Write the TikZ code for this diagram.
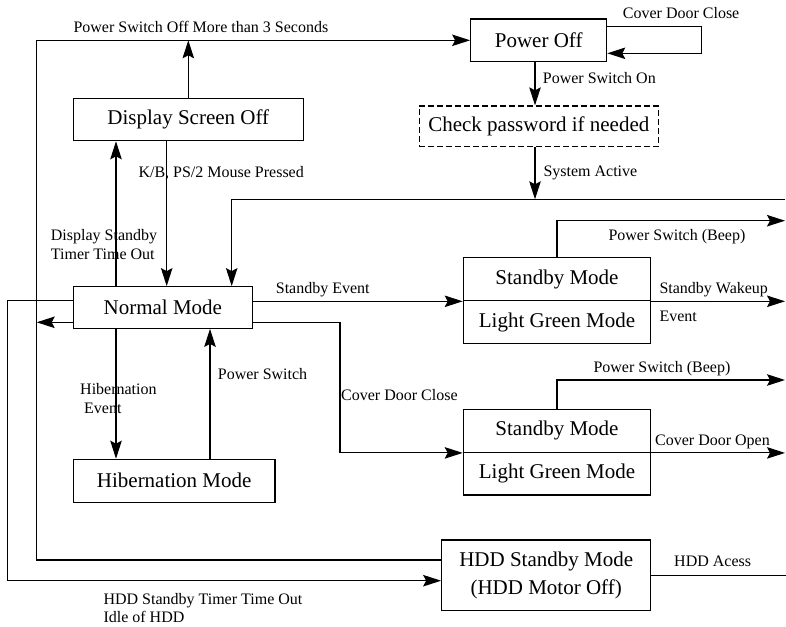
\documentclass[tikz,border=0pt]{standalone}
\usepackage{fontspec}
\setmainfont{Liberation Serif}
\usetikzlibrary{arrows.meta,calc}
\begin{document}
\begin{tikzpicture}[x=1pt,y=-1pt,
  box/.style={draw,line width=1.2pt,inner sep=0pt,font=\fontsize{21}{28}\selectfont,align=center},
  dashbox/.style={box,dash pattern=on 6pt off 3pt},
  lbl/.style={inner sep=0pt,anchor=base west,font=\fontsize{16}{19}\selectfont},
  conn/.style={line width=1.1pt},
  arr/.style={conn,-{Stealth[length=18pt,width=11.5pt,inset=3pt]}}]
\useasboundingbox (0,0) rectangle (786,626);
% boxes
\node[box,minimum width=136pt,minimum height=42.7pt] (poff) at (538.7,40.3) {Power Off};
\node[dashbox,minimum width=239pt,minimum height=40.7pt] (chk) at (538.8,126.3) {Check password if needed};
\node[box,minimum width=230pt,minimum height=42pt] (dso) at (188.3,119.7) {Display Screen Off};
\node[box,minimum width=179pt,minimum height=41.6pt] (nm) at (162.8,307.5) {Normal Mode};
\node[box,minimum width=201.7pt,minimum height=43pt] (hib) at (174.2,480.8) {Hibernation Mode};
\node[box,minimum width=187.4pt,minimum height=43pt] (sbA) at (557,279.2) {Standby Mode};
\node[box,minimum width=187.4pt,minimum height=42.6pt] (lgA) at (557,322) {Light Green Mode};
\node[box,minimum width=187.4pt,minimum height=43pt] (sbB) at (557,430.8) {Standby Mode};
\node[box,minimum width=187.4pt,minimum height=42.7pt] (lgB) at (557,473.7) {Light Green Mode};
\node[box,minimum width=209pt,minimum height=70.7pt] (hdd) at (546.2,575.3) {HDD Standby Mode\\(HDD Motor Off)};
% helper coordinates
\coordinate (xL) at (36.7,0);
\coordinate (xLL) at (7.3,0);
\coordinate (xA) at (116,0);
\coordinate (xB) at (166.7,0);
\coordinate (xC) at (231.7,0);
\coordinate (xD) at (210,0);
\coordinate (xE) at (340,0);
\coordinate (xP) at (535,0);
\coordinate (xR) at (785,0);
\coordinate (xLoop) at (701.7,0);
\coordinate (yLa) at (0,26.7);
\coordinate (yLb) at (0,53.3);
\coordinate (yS) at (0,199.3);
\coordinate (yB1) at (0,220.7);
\coordinate (yB2) at (0,380);
\coordinate (yH1) at (0,560);
\coordinate (yH2) at (0,580.7);
\coordinate (yN1) at (0,300.7);
\coordinate (yN2) at (0,322.3);
% connectors
\draw[arr] (hdd.west |- yH1) -| (xL |- poff.west) -- (poff.west);
\draw[arr] (dso.north) -- (dso.north |- poff.west);
\draw[arr] (nm.north -| xA) -- (dso.south -| xA);
\draw[arr] (dso.south -| xB) -- (nm.north -| xB);
\draw[arr] (xR |- yS) -| (nm.north -| xC);
\draw[arr] (poff.south -| xP) -- (chk.north -| xP);
\draw[arr] (chk.south -| xP) -- (xP |- yS);
\draw[arr] (poff.east |- yLa) -| (xLoop |- yLb) -- (poff.east |- yLb);
\draw[arr] (nm.west |- yN1) -| (xLL |- yH2) -- (hdd.west |- yH2);
\draw[arr] (nm.west |- yN2) -- (xL |- yN2);
\draw[arr] (nm.east |- sbA.south) -- (sbA.south west);
\draw[arr] (nm.east |- yN2) -| (xE |- sbB.south) -- (sbB.south west);
\draw[arr] (nm.south -| xA) -- (hib.north -| xA);
\draw[arr] (hib.north -| xD) -- (nm.south -| xD);
\draw[arr] (sbA.north) |- (xR |- yB1);
\draw[arr] (sbA.south east) -- (xR |- sbA.south);
\draw[arr] (sbB.north) |- (xR |- yB2);
\draw[arr] (sbB.south east) -- (xR |- sbB.south);
\draw[conn] (hdd.east) -- (786,0 |- hdd.east);
% labels
\node[lbl] (t1) at (73.3,32.7) {Power Switch Off More than 3 Seconds};
\node[lbl] (t2) at (138.3,177) {K/B, PS/2 Mouse Pressed};
\node[lbl] (t3) at (622.7,18.3) {Cover Door Close};
\node[lbl] (t4) at (542.7,83.3) {Power Switch On};
\node[lbl] (t5) at (543.3,176.7) {System Active};
\node[lbl] (t6) at (50.7,240.7) {Display Standby};
\node[lbl] (t7) at (50.7,259) {Timer Time Out};
\node[lbl] (t8) at (275.7,293.3) {Standby Event};
\node[lbl] (t9) at (217.7,379) {Power Switch};
\node[lbl] (t10) at (80,394.7) {Hibernation};
\node[lbl] (t11) at (84,413.3) {Event};
\node[lbl] (t12) at (341,400.7) {Cover Door Close};
\node[lbl] (t13) at (103.3,604) {HDD Standby Timer Time Out};
\node[lbl] (t14) at (103.3,622.5) {Idle of HDD};
\node[lbl] (t15) at (608.3,240.7) {Power Switch (Beep)};
\node[lbl] (t16) at (593.3,372.7) {Power Switch (Beep)};
\node[lbl] (t17) at (659.3,293.3) {Standby Wakeup};
\node[lbl] (t18) at (659.3,321.7) {Event};
\node[lbl] (t19) at (655,445) {Cover Door Open};
\node[lbl] (t20) at (674,566.7) {HDD Acess};
\end{tikzpicture}
\end{document}
